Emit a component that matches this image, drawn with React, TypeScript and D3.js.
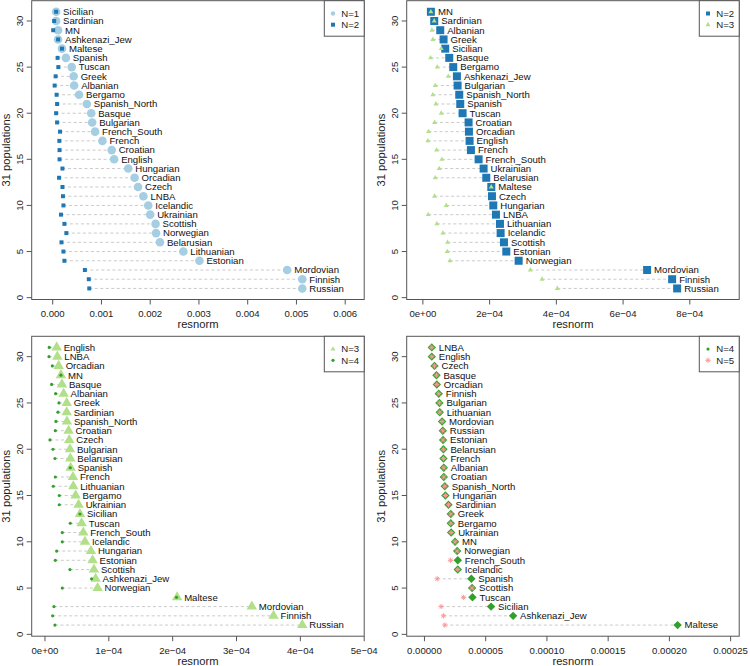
import React from "react";
import * as d3 from "d3";

// ---------- DATA ----------
// Panel 1: N=1 (big circles) vs N=2 (small squares), top to bottom
const p1Labels = ["Sicilian","Sardinian","MN","Ashkenazi_Jew","Maltese","Spanish","Tuscan","Greek","Albanian","Bergamo","Spanish_North","Basque","Bulgarian","French_South","French","Croatian","English","Hungarian","Orcadian","Czech","LNBA","Icelandic","Ukrainian","Scottish","Norwegian","Belarusian","Lithuanian","Estonian","Mordovian","Finnish","Russian"];
const p1N1 = [0.00007,0.00007,0.00011,0.00011,0.00019,0.00027,0.00039,0.00043,0.00044,0.00054,0.0007,0.00079,0.00081,0.00087,0.00102,0.00121,0.00126,0.00155,0.00168,0.00175,0.00186,0.00196,0.002,0.00211,0.00212,0.0022,0.00268,0.00301,0.00481,0.00512,0.00512];
const p1N2 = [0.00007,0.00003,0.00001,0.00011,0.00019,0.0001,0.000115,0.00006,0.00004,0.00008,0.00009,0.00007,0.00009,0.00015,0.000136,0.00014,0.00014,0.0002,0.00013,0.0002,0.00021,0.00022,0.00017,0.00024,0.00028,0.00018,0.00022,0.00024,0.00066,0.00074,0.00075];

// Panel 2: N=2 (big squares) vs N=3 (small triangles)
const p2Labels = ["MN","Sardinian","Albanian","Greek","Sicilian","Basque","Bergamo","Ashkenazi_Jew","Bulgarian","Spanish_North","Spanish","Tuscan","Croatian","Orcadian","English","French","French_South","Ukrainian","Belarusian","Maltese","Czech","Hungarian","LNBA","Lithuanian","Icelandic","Scottish","Estonian","Norwegian","Mordovian","Finnish","Russian"];
const p2N2 = [0.000024,0.000034,0.000052,0.000062,0.000067,0.000079,0.000091,0.000102,0.000104,0.000109,0.000112,0.000119,0.000137,0.000138,0.00014,0.000144,0.000167,0.000182,0.00019,0.000205,0.000207,0.000211,0.000219,0.000231,0.000233,0.000243,0.00025,0.000287,0.000672,0.000747,0.000762];
const p2N3 = [0.000024,0.000034,0.000027,0.00003,0.000055,0.000023,0.000043,0.000076,0.000037,0.00003,0.000039,0.000055,0.000035,0.000017,0.000015,0.000041,0.000057,0.000049,0.000037,0.000205,0.000035,0.00007,0.000016,0.000042,0.00006,0.000074,0.000073,0.000081,0.000322,0.000357,0.000403];

// Panel 3: N=3 (big triangles) vs N=4 (small dots)
const p3Labels = ["English","LNBA","Orcadian","MN","Basque","Albanian","Greek","Sardinian","Spanish_North","Croatian","Czech","Bulgarian","Belarusian","Spanish","French","Lithuanian","Bergamo","Ukrainian","Sicilian","Tuscan","French_South","Icelandic","Hungarian","Estonian","Scottish","Ashkenazi_Jew","Norwegian","Maltese","Mordovian","Finnish","Russian"];
const p3N3 = [0.0000183,0.0000193,0.0000214,0.000025,0.0000266,0.0000292,0.000034,0.000034,0.0000344,0.000037,0.000038,0.0000391,0.0000397,0.0000402,0.0000438,0.0000443,0.000048,0.0000527,0.0000548,0.0000574,0.00006,0.0000626,0.000072,0.0000746,0.0000767,0.0000793,0.0000824,0.000207,0.000324,0.000358,0.000403];
const p3N4 = [0.0000067,0.0000063,0.0000115,0.000025,0.0000104,0.0000167,0.0000219,0.0000203,0.0000172,0.0000162,0.0000078,0.0000125,0.0000156,0.0000396,0.0000162,0.000013,0.0000224,0.0000224,0.0000548,0.0000396,0.0000271,0.0000271,0.0000183,0.0000162,0.0000391,0.000073,0.0000271,0.000206,0.0000141,0.000012,0.0000156];

// Panel 4: N=4 (big diamonds) vs N=5 (small asterisks)
const p4Labels = ["LNBA","English","Czech","Basque","Orcadian","Finnish","Bulgarian","Lithuanian","Mordovian","Russian","Estonian","Belarusian","French","Albanian","Croatian","Spanish_North","Hungarian","Sardinian","Greek","Bergamo","Ukrainian","MN","Norwegian","French_South","Icelandic","Spanish","Scottish","Tuscan","Sicilian","Ashkenazi_Jew","Maltese"];
const p4N4 = [0.000006,0.000006,0.0000082,0.0000098,0.0000101,0.0000117,0.0000122,0.0000125,0.0000144,0.000015,0.0000152,0.0000155,0.0000155,0.0000158,0.0000158,0.0000166,0.0000171,0.0000196,0.0000215,0.0000215,0.0000218,0.000025,0.0000267,0.0000272,0.0000272,0.0000383,0.0000389,0.0000392,0.0000544,0.0000724,0.0002067];
const p4N5 = [0.000006,0.000006,0.0000082,0.0000098,0.0000101,0.0000117,0.0000122,0.0000125,0.0000144,0.000015,0.0000152,0.0000155,0.0000155,0.0000158,0.0000158,0.0000166,0.0000171,0.0000196,0.0000215,0.0000215,0.0000218,0.000025,0.0000267,0.0000212,0.0000272,0.0000104,0.0000389,0.0000318,0.0000136,0.0000155,0.0000166];

const yTicks = [0, 5, 10, 15, 20, 25, 30];
const p1Ticks = [0, 0.001, 0.002, 0.003, 0.004, 0.005, 0.006];
const p2Ticks = [0, 0.0002, 0.0004, 0.0006, 0.0008];
const p3Ticks = [0, 0.0001, 0.0002, 0.0003, 0.0004, 0.0005];
const p4Ticks = [0, 0.00005, 0.0001, 0.00015, 0.0002, 0.00025];

// ---------- STYLE ----------
const C_LBLUE = "#a6cee3";
const C_DBLUE = "#1f78b4";
const C_LGREEN = "#b2df8a";
const C_DGREEN = "#33a02c";
const C_PINK = "#fb9a99";
const FONT = "'Liberation Sans', Arial, Helvetica, sans-serif";

function rExp(v: number): string {
  if (v === 0) return "0e+00";
  const e = Math.floor(Math.log10(Math.abs(v)) + 1e-9);
  const m = Math.round(v / Math.pow(10, e));
  return `${m}e${e < 0 ? "\u2212" : "+"}${String(Math.abs(e)).padStart(2, "0")}`;
}

type Shape = { kind: string; size: number; color: string };

function Marker({ x, y, s }: { x: number; y: number; s: Shape }) {
  const { kind, size, color } = s;
  if (kind === "circle") return <circle cx={x} cy={y} r={size} fill={color} />;
  if (kind === "square")
    return <rect x={x - size / 2} y={y - size / 2} width={size} height={size} fill={color} />;
  if (kind === "triangle") {
    const w = size;
    const h = w * 0.866;
    return (
      <path
        d={`M${x},${y - (h * 2) / 3}L${x + w / 2},${y + h / 3}L${x - w / 2},${y + h / 3}Z`}
        fill={color}
      />
    );
  }
  if (kind === "diamond") {
    const d = size;
    return <path d={`M${x},${y - d}L${x + d},${y}L${x},${y + d}L${x - d},${y}Z`} fill={color} />;
  }
  if (kind === "asterisk") {
    const r = size;
    const q = r * 0.7071;
    return (
      <path
        d={`M${x - r},${y}L${x + r},${y}M${x},${y - r}L${x},${y + r}M${x - q},${y - q}L${x + q},${y + q}M${x - q},${y + q}L${x + q},${y - q}`}
        stroke={color}
        strokeWidth={1}
        fill="none"
      />
    );
  }
  return null;
}

type PanelProps = {
  ox: number;
  top: number;
  bottom: number;
  domain: [number, number];
  ticks: number[];
  fmt: (v: number) => string;
  labels: string[];
  big: number[];
  small: number[];
  bigShape: Shape;
  smallShape: Shape;
  legend: { label: string; shape: Shape }[];
};

function Panel(p: PanelProps) {
  const left = p.ox + 31.7;
  const right = p.ox + 364.2;
  const x = d3.scaleLinear().domain(p.domain).range([left, right]);
  const y = d3.scaleLinear().domain([-0.2, 32.2]).range([p.bottom, p.top]);
  const n = p.labels.length;
  const boxColor = "#555";
  const midY = (p.top + p.bottom) / 2;
  const lgTop = p.top;
  const lgLeft = p.ox + 324.3;
  return (
    <g fontFamily={FONT}>
      {/* dashed guide lines */}
      {p.labels.map((lab, i) => {
        const yy = y(n - i);
        const a = Math.min(p.big[i], p.small[i]);
        const b = Math.max(p.big[i], p.small[i]);
        return (
          <line
            key={"l" + lab}
            x1={x(a)}
            x2={x(b)}
            y1={yy}
            y2={yy}
            stroke="#c4c4c4"
            strokeWidth={0.9}
            strokeDasharray="3,2.5"
          />
        );
      })}
      {p.labels.map((lab, i) => (
        <Marker key={"b" + lab} x={x(p.big[i])} y={y(n - i)} s={p.bigShape} />
      ))}
      {p.labels.map((lab, i) => (
        <Marker key={"s" + lab} x={x(p.small[i])} y={y(n - i)} s={p.smallShape} />
      ))}
      {p.labels.map((lab, i) => (
        <text
          key={"t" + lab}
          x={x(p.big[i]) + 7}
          y={y(n - i)}
          dy="0.35em"
          fontSize={9.6}
          fill="#111"
        >
          {lab}
        </text>
      ))}
      {/* box */}
      <rect
        x={left}
        y={p.top}
        width={right - left}
        height={p.bottom - p.top}
        fill="none"
        stroke={boxColor}
        strokeWidth={1}
      />
      {/* x axis */}
      {p.ticks.map((t) => (
        <g key={"xt" + t}>
          <line x1={x(t)} x2={x(t)} y1={p.bottom} y2={p.bottom + 5} stroke={boxColor} />
          <text
            x={x(t)}
            y={p.bottom + 14}
            dy="0.35em"
            textAnchor="middle"
            fontSize={9.6}
            fill="#222"
          >
            {p.fmt(t)}
          </text>
        </g>
      ))}
      <text
        x={(left + right) / 2}
        y={p.bottom + 25}
        dy="0.35em"
        textAnchor="middle"
        fontSize={11.2}
        fill="#222"
      >
        resnorm
      </text>
      {/* y axis */}
      {yTicks.map((t) => (
        <g key={"yt" + t}>
          <line x1={left} x2={left - 5} y1={y(t)} y2={y(t)} stroke={boxColor} />
          <text
            transform={`translate(${p.ox + 19.5},${y(t)}) rotate(-90)`}
            dy="0.35em"
            textAnchor="middle"
            fontSize={9.6}
            fill="#222"
          >
            {t}
          </text>
        </g>
      ))}
      <text
        transform={`translate(${p.ox + 6.5},${midY}) rotate(-90)`}
        dy="0.35em"
        textAnchor="middle"
        fontSize={11.2}
        fill="#222"
      >
        31 populations
      </text>
      {/* legend */}
      <rect
        x={lgLeft}
        y={lgTop}
        width={right - lgLeft}
        height={35.5}
        fill="white"
        stroke={boxColor}
        strokeWidth={1}
      />
      {p.legend.map((it, k) => (
        <g key={"lg" + k}>
          <Marker x={lgLeft + 8.7} y={lgTop + 12.8 + k * 11.2} s={it.shape} />
          <text
            x={lgLeft + 17}
            y={lgTop + 12.8 + k * 11.2}
            dy="0.35em"
            fontSize={9.6}
            fill="#222"
          >
            {it.label}
          </text>
        </g>
      ))}
    </g>
  );
}

export default function App() {
  const TOP = [0.7, 299.5] as const;
  const BOT = [336.3, 636.2] as const;
  return (
    <svg
      width={750}
      height={666}
      style={{ position: "absolute", left: 0, top: 0, background: "white" }}
    >
      <rect width={750} height={666} fill="white" />
      <Panel
        ox={0}
        top={TOP[0]}
        bottom={TOP[1]}
        domain={[-0.000431, 0.00639]}
        ticks={p1Ticks}
        fmt={d3.format(".3f")}
        labels={p1Labels}
        big={p1N1}
        small={p1N2}
        bigShape={{ kind: "circle", size: 4.3, color: C_LBLUE }}
        smallShape={{ kind: "square", size: 4, color: C_DBLUE }}
        legend={[
          { label: "N=1", shape: { kind: "circle", size: 2.2, color: C_LBLUE } },
          { label: "N=2", shape: { kind: "square", size: 4, color: C_DBLUE } },
        ]}
      />
      <Panel
        ox={375}
        top={TOP[0]}
        bottom={TOP[1]}
        domain={[-0.0000485, 0.000948]}
        ticks={p2Ticks}
        fmt={rExp}
        labels={p2Labels}
        big={p2N2}
        small={p2N3}
        bigShape={{ kind: "square", size: 8, color: C_DBLUE }}
        smallShape={{ kind: "triangle", size: 5, color: C_LGREEN }}
        legend={[
          { label: "N=2", shape: { kind: "square", size: 4, color: C_DBLUE } },
          { label: "N=3", shape: { kind: "triangle", size: 5, color: C_LGREEN } },
        ]}
      />
      <Panel
        ox={0}
        top={BOT[0]}
        bottom={BOT[1]}
        domain={[-0.0000208, 0.0005]}
        ticks={p3Ticks}
        fmt={rExp}
        labels={p3Labels}
        big={p3N3}
        small={p3N4}
        bigShape={{ kind: "triangle", size: 10.5, color: C_LGREEN }}
        smallShape={{ kind: "circle", size: 1.6, color: C_DGREEN }}
        legend={[
          { label: "N=3", shape: { kind: "triangle", size: 5, color: C_LGREEN } },
          { label: "N=4", shape: { kind: "circle", size: 1.6, color: C_DGREEN } },
        ]}
      />
      <Panel
        ox={375}
        top={BOT[0]}
        bottom={BOT[1]}
        domain={[-0.0000145, 0.000257]}
        ticks={p4Ticks}
        fmt={d3.format(".5f")}
        labels={p4Labels}
        big={p4N4}
        small={p4N5}
        bigShape={{ kind: "diamond", size: 4.2, color: C_DGREEN }}
        smallShape={{ kind: "asterisk", size: 2.6, color: C_PINK }}
        legend={[
          { label: "N=4", shape: { kind: "circle", size: 1.6, color: C_DGREEN } },
          { label: "N=5", shape: { kind: "asterisk", size: 2.6, color: C_PINK } },
        ]}
      />
    </svg>
  );
}
